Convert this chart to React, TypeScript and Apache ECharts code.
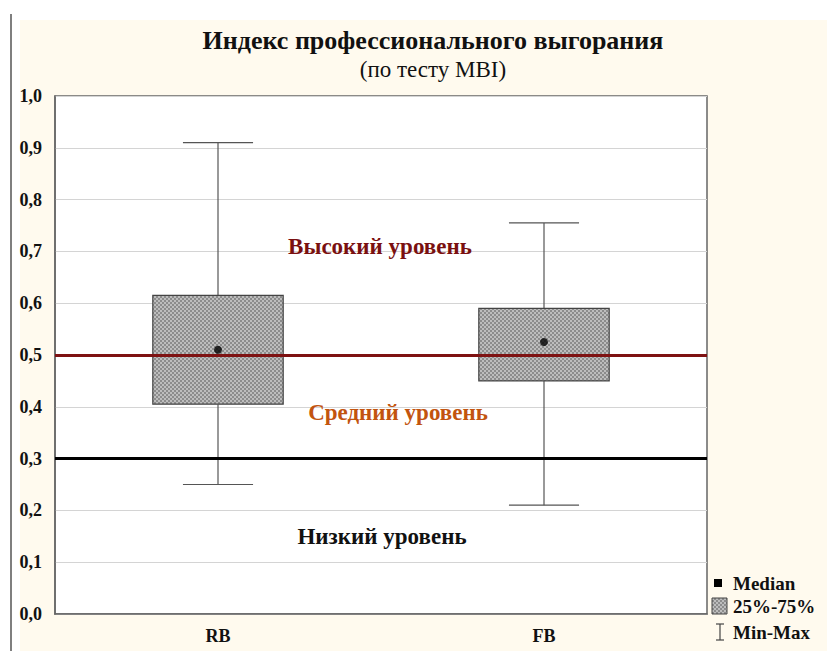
import React, { useEffect, useRef } from "react";
import * as echarts from "echarts";

const categories = ["RB", "FB"];
// [min, Q1, median, Q3, max]
const rbStats = [0.25, 0.405, 0.51, 0.615, 0.91];
const fbStats = [0.21, 0.45, 0.525, 0.59, 0.755];
const thresholdHigh = 0.5;
const thresholdLow = 0.3;
const titleText = "Индекс профессионального выгорания";
const subtitleText = "(по тесту MBI)";
const zoneLabels = ["Высокий уровень", "Средний уровень", "Низкий уровень"];
const legendLabels = ["Median", "25%-75%", "Min-Max"];

const FONT = "Liberation Serif, Times New Roman, serif";

function makePattern(): any {
  try {
    const c = document.createElement("canvas");
    c.width = 4;
    c.height = 4;
    const ctx = c.getContext("2d");
    if (!ctx) return "#a8a8a8";
    ctx.fillStyle = "#bdbdbd";
    ctx.fillRect(0, 0, 4, 4);
    ctx.fillStyle = "#8c8c8c";
    ctx.fillRect(0, 0, 2, 2);
    ctx.fillRect(2, 2, 2, 2);
    return { image: c.toDataURL(), repeat: "repeat" };
  } catch (e) {
    return "#a8a8a8";
  }
}

export default function App() {
  const ref = useRef<HTMLDivElement>(null);
  useEffect(() => {
    if (!ref.current) return;
    const chart = echarts.init(ref.current, undefined, { renderer: "svg" });
    const stats = [rbStats, fbStats];
    const boxData = stats.map((s, i) => [i, s[0], s[1], s[2], s[3], s[4]]);
    const medianData = stats.map((s, i) => [i, s[2]]);
    const boxFill = makePattern();

    const renderItem = (params: any, api: any) => {
      const x = api.value(0);
      const vMin = api.value(1);
      const q1 = api.value(2);
      const q3 = api.value(4);
      const vMax = api.value(5);
      const band = api.size([1, 0])[0];
      const boxW = band * 0.4;
      const capW = band * 0.215;
      const pMin = api.coord([x, vMin]);
      const pQ1 = api.coord([x, q1]);
      const pQ3 = api.coord([x, q3]);
      const pMax = api.coord([x, vMax]);
      const cx = pMin[0];
      const lineStyle = { stroke: "#555", lineWidth: 1.2 };
      return {
        type: "group",
        children: [
          { type: "line", shape: { x1: cx, y1: pQ3[1], x2: cx, y2: pMax[1] }, style: lineStyle },
          { type: "line", shape: { x1: cx, y1: pQ1[1], x2: cx, y2: pMin[1] }, style: lineStyle },
          { type: "line", shape: { x1: cx - capW / 2, y1: pMax[1], x2: cx + capW / 2, y2: pMax[1] }, style: lineStyle },
          { type: "line", shape: { x1: cx - capW / 2, y1: pMin[1], x2: cx + capW / 2, y2: pMin[1] }, style: lineStyle },
          {
            type: "rect",
            shape: { x: cx - boxW / 2, y: pQ3[1], width: boxW, height: pQ1[1] - pQ3[1] },
            style: { fill: boxFill, stroke: "#444", lineWidth: 1.2 },
          },
        ],
      };
    };

    chart.setOption({
      animation: false,
      backgroundColor: "#ffffff",
      title: {
        text: titleText,
        subtext: subtitleText,
        left: 428,
        textAlign: "center",
        top: 22,
        itemGap: 5,
        textStyle: { fontFamily: FONT, fontWeight: "bold", fontSize: 26, color: "#111" },
        subtextStyle: { fontFamily: FONT, fontWeight: "normal", fontSize: 23, color: "#111" },
      },
      grid: {
        left: 55,
        right: 120,
        top: 96,
        bottom: 37,
        show: true,
        backgroundColor: "#ffffff",
        borderColor: "#666",
        borderWidth: 1.5,
      },
      xAxis: {
        type: "category",
        data: categories,
        boundaryGap: true,
        axisLine: { lineStyle: { color: "#666", width: 1.5 } },
        axisTick: { alignWithLabel: true, inside: true, length: 3, lineStyle: { color: "#444" } },
        axisLabel: { fontFamily: FONT, fontWeight: "bold", fontSize: 18, color: "#111", margin: 13 },
        splitLine: { show: false },
      },
      yAxis: {
        type: "value",
        min: 0,
        max: 1,
        interval: 0.1,
        axisLine: { show: true, lineStyle: { color: "#666", width: 1.5 } },
        axisTick: { show: false },
        axisLabel: {
          fontFamily: FONT,
          fontWeight: "bold",
          fontSize: 18,
          color: "#111",
          margin: 13,
          formatter: (v: number) => v.toFixed(1).replace(".", ","),
        },
        splitLine: { show: true, lineStyle: { color: "#d4d4d4", width: 1.2 } },
      },
      series: [
        {
          type: "custom",
          renderItem,
          data: boxData,
          encode: { x: 0, y: [1, 2, 4, 5] },
          z: 2,
        },
        {
          type: "scatter",
          data: medianData,
          symbol: "circle",
          symbolSize: 8,
          itemStyle: { color: "#000" },
          z: 5,
          markLine: {
            silent: true,
            symbol: "none",
            label: { show: false },
            data: [
              { yAxis: thresholdHigh, lineStyle: { color: "#7e1212", width: 3.2, type: "solid" } },
              { yAxis: thresholdLow, lineStyle: { color: "#000", width: 3, type: "solid" } },
            ],
          },
        },
      ],
      graphic: [
        {
          type: "rect",
          shape: { x: 20, y: 20, width: 807, height: 631 },
          style: { fill: "#fffaee" },
          z: -100,
          silent: true,
        },
        {
          type: "line",
          shape: { x1: 11, y1: 14, x2: 11, y2: 651 },
          style: { stroke: "#555", lineWidth: 1.5 },
          z: 10,
        },
        {
          type: "text",
          x: 380,
          y: 246,
          style: { text: zoneLabels[0], fill: "#7a1010", font: `bold 23px ${FONT}`, align: "center", verticalAlign: "middle" },
          z: 10,
        },
        {
          type: "text",
          x: 398,
          y: 412,
          style: { text: zoneLabels[1], fill: "#c2540f", font: `bold 23px ${FONT}`, align: "center", verticalAlign: "middle" },
          z: 10,
        },
        {
          type: "text",
          x: 382,
          y: 536,
          style: { text: zoneLabels[2], fill: "#111", font: `bold 23px ${FONT}`, align: "center", verticalAlign: "middle" },
          z: 10,
        },
        // legend
        { type: "rect", shape: { x: 714, y: 579, width: 8, height: 8 }, style: { fill: "#000" }, z: 10 },
        { type: "rect", shape: { x: 712, y: 598, width: 15, height: 16 }, style: { fill: boxFill, stroke: "#444", lineWidth: 1 }, z: 10 },
        { type: "line", shape: { x1: 720, y1: 624, x2: 720, y2: 640 }, style: { stroke: "#444", lineWidth: 1.2 }, z: 10 },
        { type: "line", shape: { x1: 716, y1: 624, x2: 724, y2: 624 }, style: { stroke: "#444", lineWidth: 1.2 }, z: 10 },
        { type: "line", shape: { x1: 716, y1: 640, x2: 724, y2: 640 }, style: { stroke: "#444", lineWidth: 1.2 }, z: 10 },
        {
          type: "text",
          x: 733,
          y: 583,
          style: { text: legendLabels[0], fill: "#111", font: `bold 19px ${FONT}`, align: "left", verticalAlign: "middle" },
          z: 10,
        },
        {
          type: "text",
          x: 733,
          y: 606,
          style: { text: legendLabels[1], fill: "#111", font: `bold 19px ${FONT}`, align: "left", verticalAlign: "middle" },
          z: 10,
        },
        {
          type: "text",
          x: 733,
          y: 632,
          style: { text: legendLabels[2], fill: "#111", font: `bold 19px ${FONT}`, align: "left", verticalAlign: "middle" },
          z: 10,
        },
      ],
    });
    return () => chart.dispose();
  }, []);
  return (
    <div
      ref={ref}
      style={{ position: "absolute", left: 0, top: 0, width: 827, height: 651 }}
    />
  );
}
